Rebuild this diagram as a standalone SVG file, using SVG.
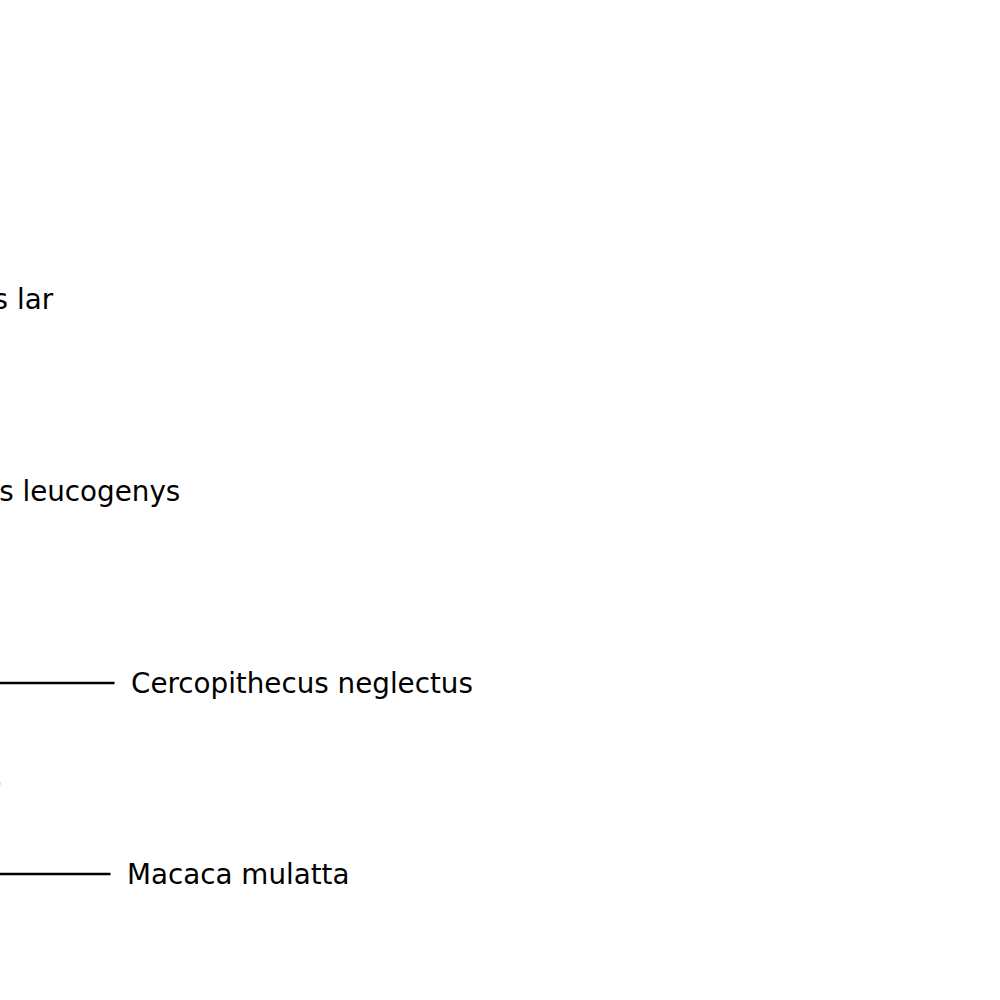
<svg xmlns="http://www.w3.org/2000/svg" width="1000" height="1000" viewBox="0 0 1000 1000">
<style>
.lbl{font-family:"DejaVu Sans",sans-serif;font-size:27.78px;fill:#000}
.br{stroke:#000;stroke-width:2.5;fill:none}
</style>
<rect width="1000" height="1000" fill="#fff"/>
<g id="connectors">
<line class="br" x1="-5" y1="683" x2="114.5" y2="683"/>
<line class="br" x1="-5" y1="874" x2="110.5" y2="874"/>
<rect x="0" y="782" width="1" height="3" fill="#ddd"/>
</g>
<g id="node-hylobates-lar"><text class="lbl" x="-131" y="308.5">Hylobates lar</text></g>
<g id="node-nomascus-leucogenys"><text class="lbl" x="-130" y="500.5">Nomascus leucogenys</text></g>
<g id="node-cercopithecus-neglectus"><text class="lbl" x="131" y="692.5">Cercopithecus neglectus</text></g>
<g id="node-macaca-mulatta"><text class="lbl" x="127" y="883.5">Macaca mulatta</text></g>
</svg>
